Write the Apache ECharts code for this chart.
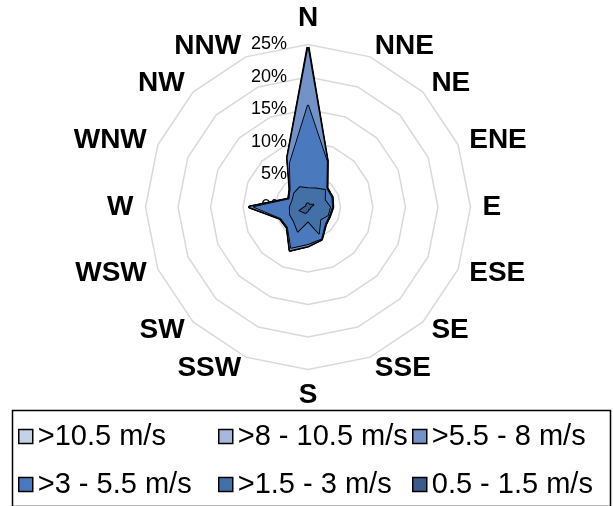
<!DOCTYPE html>
<html>
<head>
<meta charset="utf-8">
<script src="https://cdn.jsdelivr.net/npm/echarts@6/dist/echarts.min.js"></script>
<style>html,body{margin:0;padding:0;background:#fff}#c{width:613px;height:506px}</style>
</head>
<body>
<div id="c"></div>
<script>
// Compass directions (clockwise from North)
const directions = ['N','NNE','NE','ENE','E','ESE','SE','SSE','S','SSW','SW','WSW','W','WNW','NW','NNW'];
const tickLabels = ['0%','5%','10%','15%','20%','25%'];
const seriesNames = ['>10.5 m/s','>8 - 10.5 m/s','>5.5 - 8 m/s','>3 - 5.5 m/s','>1.5 - 3 m/s','0.5 - 1.5 m/s'];
// Cumulative frequency (%) per direction, in compass order
const over10_5 = [24.6, 7.7, 4.1, 4.0, 3.8, 3.6, 3.8, 5.4, 6.0, 7.2, 4.5, 4.6, 9.0, 3.2, 3.9, 8.2];
const s8to10_5 = [24.5, 7.7, 4.1, 4.0, 3.8, 3.6, 3.8, 5.4, 6.0, 7.2, 4.5, 4.6, 9.0, 3.2, 3.9, 8.2];
const s5_5to8  = [24.3, 7.7, 4.1, 4.0, 3.8, 3.6, 3.8, 5.4, 6.0, 7.2, 4.5, 4.6, 9.0, 3.2, 3.9, 8.2];
const s3to5_5  = [15.7, 7.6, 4.0, 3.9, 3.7, 3.5, 3.7, 5.3, 5.7, 6.8, 4.4, 4.5, 8.3, 3.1, 3.8, 7.3];
const s1_5to3  = [2.9, 3.1, 3.7, 2.8, 3.4, 3.3, 2.7, 4.4, 2.2, 4.1, 3.1, 3.0, 2.8, 2.6, 3.0, 3.3];
const s0_5to1_5 = [0.65, 0.4, 0.5, 0.9, 0.4, 0.3, 0.4, 0.3, 0.6, 1.0, 1.1, 1.4, 0.5, 0.3, 0.4, 0.5];
const seriesValues = [over10_5, s8to10_5, s5_5to8, s3to5_5, s1_5to3, s0_5to1_5];
const colors = ['#c5d1e5', '#a6b9dc', '#7393c8', '#4a79bd', '#4470a8', '#3a5b8c'];
const axisMax = 25;

// ECharts radar lays indicators out counter-clockwise: reorder
const order = [0].concat(directions.map((d, i) => i).slice(1).reverse());
const indicator = order.map((i, k) => {
  const o = { name: directions[i], max: axisMax, min: 0 };
  if (k === 0) o.axisLabel = { show: true };
  return o;
});

const chart = echarts.init(document.getElementById('c'));
const legendPos = [[18, 422], [218, 422], [412, 422], [18, 470], [218, 470], [412, 470]];
chart.setOption({
  animation: false,
  color: colors,
  radar: {
    center: [308, 207],
    radius: 162.5,
    startAngle: 90,
    shape: 'polygon',
    splitNumber: 5,
    indicator: indicator,
    axisName: { color: '#000', fontSize: 28, fontWeight: 'bold', fontFamily: 'Liberation Sans' },
    nameGap: 12,
    splitLine: { lineStyle: { color: '#d9d9d9', width: 1.5 } },
    splitArea: { show: false },
    axisLine: { show: false },
    axisTick: { show: false },
    axisLabel: {
      show: false, color: '#000', fontSize: 18, fontFamily: 'Liberation Sans', margin: 21,
      formatter: (v) => tickLabels[Math.round(v / 5)]
    }
  },
  legend: seriesNames.map((n, i) => ({
    data: [n], left: legendPos[i][0], top: legendPos[i][1], padding: 0,
    icon: 'rect', itemWidth: 14, itemHeight: 14,
    itemStyle: { borderColor: '#000', borderWidth: 1.5 },
    textStyle: { color: '#000', fontSize: 29, fontFamily: 'Liberation Sans' },
    selectedMode: false
  })),
  graphic: [{
    type: 'rect', left: 10, top: 408,
    shape: { width: 598, height: 96 },
    style: { fill: 'none', stroke: '#000', lineWidth: 1.5 }
  }],
  series: seriesNames.map((n, i) => ({
    type: 'radar',
    name: n,
    symbol: 'none',
    z: 2 + i,
    itemStyle: { color: colors[i] },
    lineStyle: { color: '#000', width: i === 0 ? 3.2 : (i < 3 ? 2.5 : 1.8) },
    areaStyle: { color: colors[i], opacity: 1 },
    data: [{ name: n, value: order.map(k => seriesValues[i][k]) }]
  }))
});
</script>
</body>
</html>
